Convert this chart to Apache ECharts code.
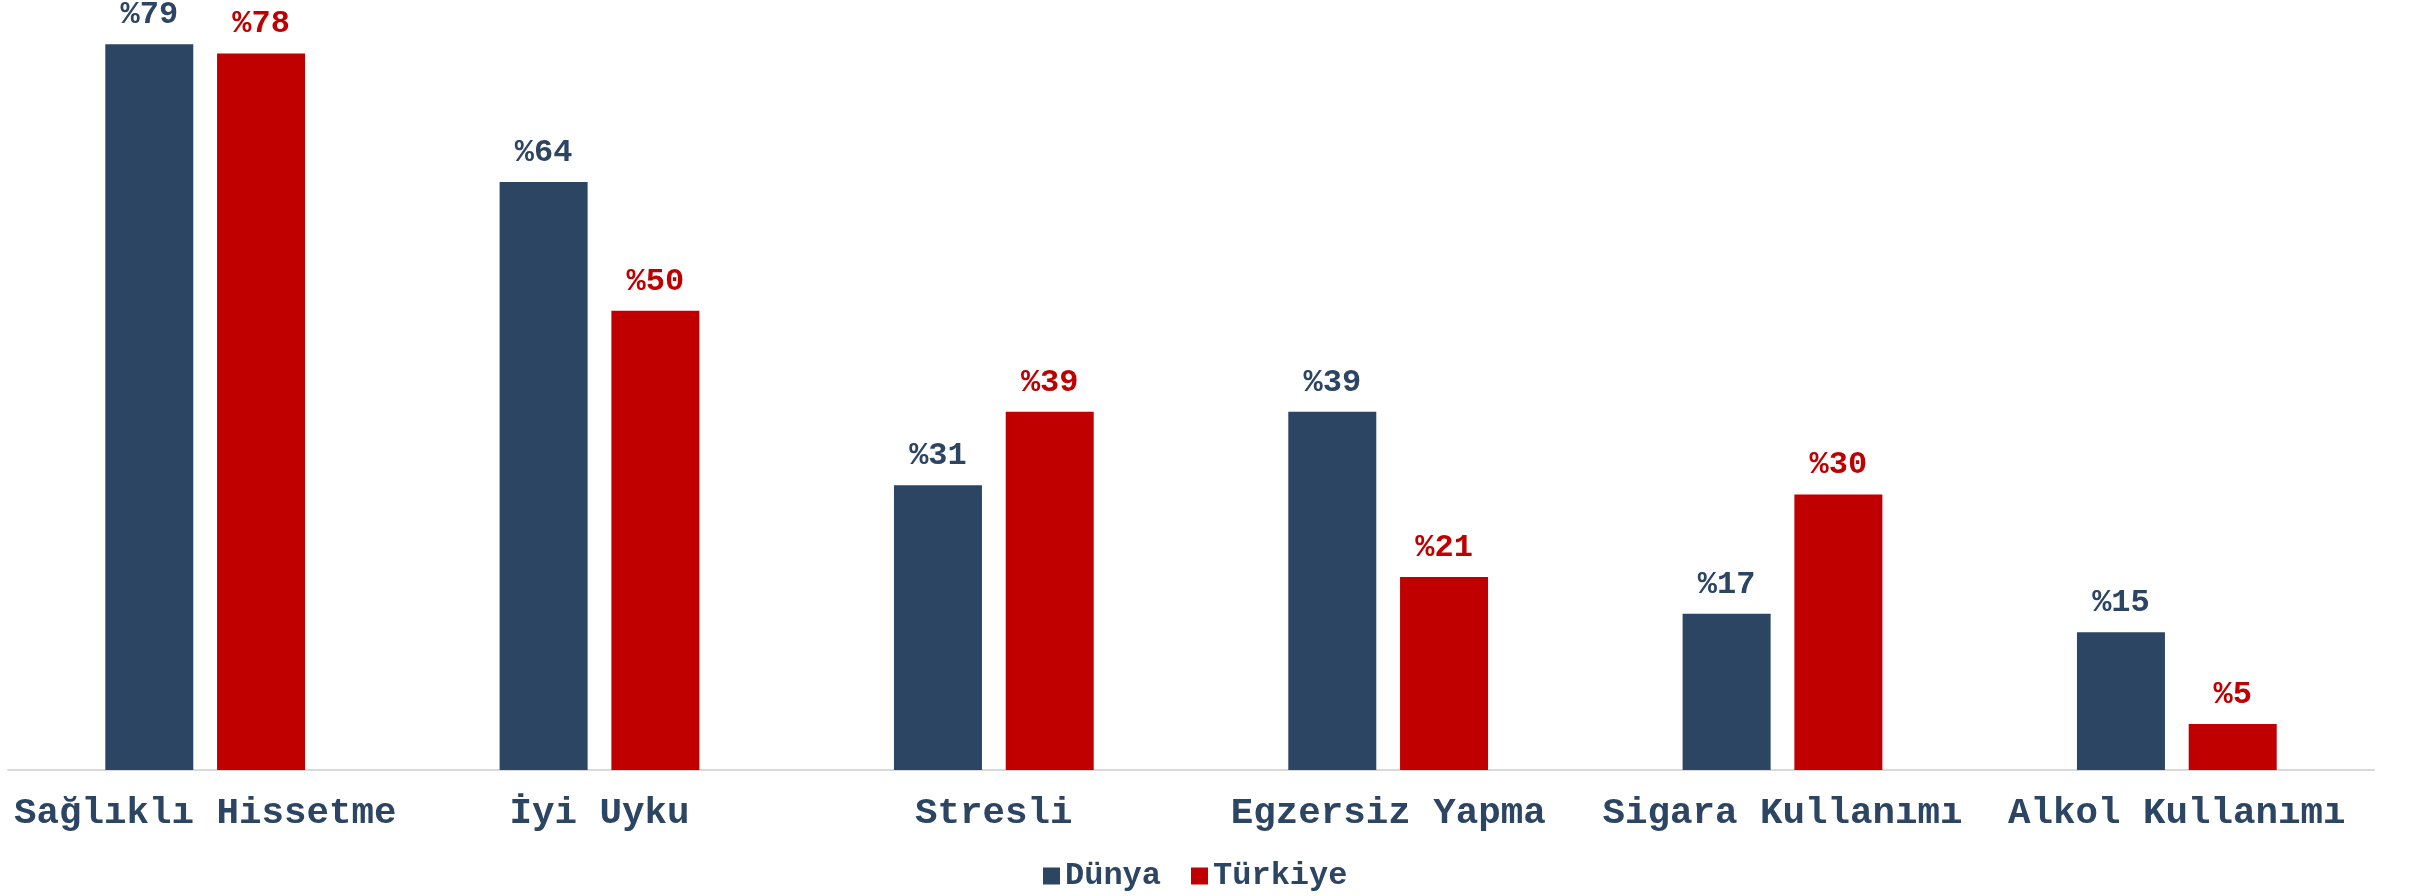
<!DOCTYPE html>
<html>
<head>
<meta charset="utf-8">
<script src="https://cdn.jsdelivr.net/npm/echarts@6/dist/echarts.min.js"></script>
<style>
  html, body { margin: 0; padding: 0; background: #fff; }
  #myChart { width: 2412px; height: 896px; }
</style>
</head>
<body>
<div id="myChart"></div>
<script>
  var categories = ['Sağlıklı Hissetme', 'İyi Uyku', 'Stresli', 'Egzersiz Yapma', 'Sigara Kullanımı', 'Alkol Kullanımı'];
  var dunya = [79, 64, 31, 39, 17, 15];
  var turkiye = [78, 50, 39, 21, 30, 5];

  var blue = '#2B4563';
  var red = '#C00000';
  var font = "'Liberation Mono', 'Courier New', monospace";

  function barLabel(color) {
    return {
      show: true,
      position: 'top',
      distance: 13,
      formatter: '%{c}',
      color: color,
      fontFamily: font,
      fontWeight: 'bold',
      fontSize: 32
    };
  }

  var option = {
    animation: false,
    grid: { left: 8, right: 38, top: 35, bottom: 126 },
    legend: {
      bottom: -1,
      left: 1038,
      icon: 'rect',
      itemWidth: 17,
      itemHeight: 17,
      itemGap: 30,
      textStyle: { color: blue, fontFamily: font, fontWeight: 'bold', fontSize: 32 },
      data: ['Dünya', 'Türkiye']
    },
    xAxis: {
      type: 'category',
      data: categories,
      axisTick: { show: false },
      axisLine: { lineStyle: { color: '#D9D9D9', width: 2 } },
      axisLabel: {
        margin: 25,
        color: blue,
        fontFamily: font,
        fontWeight: 'bold',
        fontSize: 37.5,
        interval: 0
      }
    },
    yAxis: {
      type: 'value',
      min: 0,
      max: 80,
      show: false,
      splitLine: { show: false }
    },
    series: [
      {
        name: 'Dünya',
        type: 'bar',
        data: dunya,
        barWidth: 88,
        barGap: '27%',
        itemStyle: { color: blue },
        label: barLabel(blue)
      },
      {
        name: 'Türkiye',
        type: 'bar',
        data: turkiye,
        barWidth: 88,
        itemStyle: { color: red },
        label: barLabel(red)
      }
    ]
  };

  var myChart = echarts.init(document.getElementById('myChart'));
  myChart.setOption(option);
</script>
</body>
</html>
